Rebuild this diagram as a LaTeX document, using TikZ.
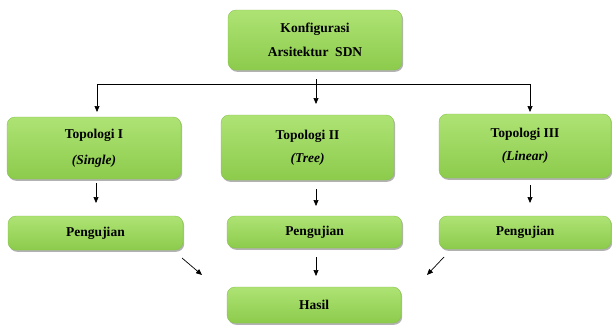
\documentclass[tikz,border=0pt]{standalone}
\usepackage{fontspec}
\setmainfont{Liberation Serif}
\usetikzlibrary{arrows.meta,shadows}
\definecolor{gtop}{HTML}{AEE374}
\definecolor{gbot}{HTML}{8CCB4C}
\definecolor{gedge}{HTML}{86C24C}
\begin{document}
\begin{tikzpicture}[x=1pt,y=-1pt,
  box/.style={rounded corners=8pt, top color=gtop, bottom color=gbot, draw=gedge, line width=0.4pt,
    drop shadow={shadow xshift=1.2pt, shadow yshift=-1.8pt, fill=black, opacity=0.3},
    align=center, font=\fontsize{13.5}{15}\selectfont\bfseries, inner sep=0pt},
  arr/.style={-{Triangle[length=6pt,width=5pt]}, line width=0.7pt},
  ln/.style={line width=0.7pt}]
\useasboundingbox (0,0) rectangle (612,327);
\node[box, minimum width=174pt, minimum height=60pt] (top) at (315,40) {Konfigurasi\\[9pt]Arsitektur\ \ SDN};
\node[box, minimum width=174pt, minimum height=62pt] (t1) at (94,148) {Topologi I\\[11pt]\itshape (Single)};
\node[box, minimum width=173pt, minimum height=65pt] (t2) at (307.5,147.5) {Topologi II\\[8pt]\itshape (Tree)};
\node[box, minimum width=172pt, minimum height=64pt] (t3) at (525,146) {Topologi III\\[8pt]\itshape (Linear)};
\node[box, minimum width=175pt, minimum height=34pt] (p1) at (95.5,233) {Pengujian};
\node[box, minimum width=175pt, minimum height=32pt] (p2) at (314.5,232) {Pengujian};
\node[box, minimum width=172pt, minimum height=33pt] (p3) at (525,232.5) {Pengujian};
\node[box, minimum width=174pt, minimum height=36pt] (hs) at (314,305) {Hasil};
% top distribution
\coordinate (bl) at (97,84);
\coordinate (br) at (530,84);
\coordinate (c0) at (316,79);
\coordinate (c1) at (316,104);
\coordinate (l1) at (97,112);
\coordinate (r1) at (530,112);
\draw[ln] (bl) -- (br);
\draw[arr] (c0) -- (c1);
\draw[arr] (bl) -- (l1);
\draw[arr] (br) -- (r1);
% topology to testing
\coordinate (a1s) at (96,183); \coordinate (a1e) at (96,203);
\coordinate (a2s) at (316,189); \coordinate (a2e) at (316,206);
\coordinate (a3s) at (530,185); \coordinate (a3e) at (530,203);
\draw[arr] (a1s) -- (a1e);
\draw[arr] (a2s) -- (a2e);
\draw[arr] (a3s) -- (a3e);
% testing to result
\coordinate (d1s) at (182,258); \coordinate (d1e) at (202,275);
\coordinate (d2s) at (316,257); \coordinate (d2e) at (316,276);
\coordinate (d3s) at (444,257); \coordinate (d3e) at (427,275);
\draw[arr] (d1s) -- (d1e);
\draw[arr] (d2s) -- (d2e);
\draw[arr] (d3s) -- (d3e);
\end{tikzpicture}
\end{document}
